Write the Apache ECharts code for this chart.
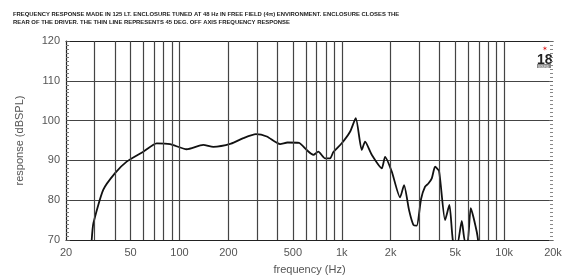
<!DOCTYPE html>
<html>
<head>
    <title>Frequency response</title>
    <script src="https://cdn.jsdelivr.net/npm/echarts/dist/echarts.min.js"></script>
</head>
<body style="margin:0;background:#fff;">
    <div id="chart" style="width:564px;height:275px;"></div>
    <script type="text/javascript">
        // on-axis response (Hz, dBSPL)
        const freqHz = [28.8, 29.5, 33.9, 40.1, 47.3, 59.9, 72.4, 87.5, 110.8, 140, 161.6, 207.8,
            247.5, 296, 345, 416.6, 463, 545, 608, 668, 717, 789, 847, 887, 999, 1124, 1219,
            1327, 1391, 1529, 1763, 1848, 2031, 2285, 2418, 2596, 2760, 2896, 3078, 3258,
            3414, 3584, 3756, 3974, 4327, 4600, 4848, 5130, 5483, 5746, 5954, 6230, 6786, 7010, 7500];
        const splDb = [70, 74.2, 82.6, 86.8, 89.7, 92.2, 94.3, 94.1, 92.8, 93.9, 93.4, 94.2,
            95.6, 96.6, 96.0, 94.1, 94.5, 94.4, 92.6, 91.4, 92.2, 90.5, 90.5, 92.1, 94.3, 97.2, 100.6,
            92.6, 94.7, 91.4, 88.0, 90.9, 87.2, 80.7, 83.8, 77.5, 73.8, 73.6, 80.3, 83.4,
            84.2, 85.5, 88.4, 87.3, 75.0, 78.8, 69.5, 68.7, 74.8, 69.5, 69.5, 78.0, 72.0, 68, 58];

        const xTickLabels = [20, 50, 100, 200, 500, 1000, 2000, 5000, 10000, 20000];
        const xGridValues = [30, 40, 50, 60, 70, 80, 90, 100, 200, 300, 400, 500, 600, 700, 800, 900,
            1000, 2000, 3000, 4000, 5000, 6000, 7000, 8000, 9000, 10000];

        const titleLines = [
            'FREQUENCY RESPONSE MADE IN 125 LT. ENCLOSURE TUNED AT 48 Hz IN FREE FIELD (4\u03c0) ENVIRONMENT. ENCLOSURE CLOSES THE',
            'REAR OF THE DRIVER. THE THIN LINE REPRESENTS 45 DEG. OFF AXIS FREQUENCY RESPONSE'
        ];

        const gridColor = '#444';
        const labelColor = '#555';

        function fmtHz(v) {
            return v >= 1000 ? (v / 1000) + 'k' : String(v);
        }

        let chart = echarts.init(document.getElementById('chart'));
        let option = {
            animation: false,
            title: {
                text: titleLines.join('\n'),
                left: 8, top: 5,
                textStyle: {fontSize: 5.9, fontWeight: 'bold', color: '#222', lineHeight: 8,
                    fontFamily: 'Liberation Sans'}
            },
            grid: {left: 66, top: 41, width: 487, height: 199, outerBoundsMode: 'none'},
            xAxis: [{
                type: 'log', logBase: 10, min: 20, max: 20000,
                name: 'frequency (Hz)', nameLocation: 'middle', nameGap: 20, nameMoveOverlap: false,
                nameTextStyle: {fontSize: 11, color: labelColor, fontFamily: 'Liberation Sans'},
                axisLine: {lineStyle: {color: '#222', width: 1.2}},
                axisTick: {show: false},
                splitLine: {show: false},
                axisLabel: {customValues: xTickLabels, formatter: fmtHz, margin: 3,
                    fontSize: 11, color: labelColor, fontFamily: 'Liberation Sans'}
            }, {
                type: 'log', logBase: 10, min: 20, max: 20000, position: 'top',
                axisLine: {lineStyle: {color: '#222', width: 1.2}},
                axisTick: {show: false}, axisLabel: {show: false}, splitLine: {show: false}
            }],
            yAxis: [{
                type: 'value', min: 70, max: 120, interval: 10,
                name: 'response (dBSPL)', nameLocation: 'middle', nameGap: 37, nameMoveOverlap: false,
                nameTextStyle: {fontSize: 11, color: labelColor, fontFamily: 'Liberation Sans'},
                axisLine: {show: true, lineStyle: {color: '#222', width: 1.2}},
                axisTick: {show: true, inside: true, length: 4, lineStyle: {color: '#555'}},
                minorTick: {show: true, splitNumber: 10, length: 3, lineStyle: {color: '#777'}},
                splitLine: {show: true, lineStyle: {color: gridColor, width: 1.2}},
                axisLabel: {margin: 6, fontSize: 11, color: labelColor, fontFamily: 'Liberation Sans'}
            }, {
                type: 'value', min: 70, max: 120, interval: 10, position: 'right',
                axisLine: {show: false},
                axisTick: {show: true, inside: true, length: 4, lineStyle: {color: '#666'}},
                minorTick: {show: true, splitNumber: 10, length: 3, lineStyle: {color: '#888'}},
                splitLine: {show: false}, axisLabel: {show: false}
            }],
            graphic: [
                {type: 'text', left: 542, top: 43, style: {text: '\u2736', fontSize: 7, fill: '#d22'}},
                {type: 'text', left: 537, top: 48, style: {text: '18', fontSize: 14, fontWeight: 'bold',
                    fill: '#222', fontFamily: 'Liberation Sans'}},
                {type: 'rect', left: 537, top: 64, shape: {width: 14, height: 4}, style: {fill: '#888'}},
                {type: 'text', left: 538, top: 64.5, style: {text: 'SOUND', fontSize: 3, fill: '#fff'}}
            ],
            series: [{
                type: 'line',
                data: freqHz.map((f, i) => [f, splDb[i]]),
                showSymbol: false,
                smooth: 0.2,
                clip: true,
                lineStyle: {color: '#111', width: 1.8},
                markLine: {
                    silent: true, symbol: 'none', animation: false,
                    label: {show: false},
                    lineStyle: {color: gridColor, type: 'solid', width: 1.2},
                    data: xGridValues.map(v => ({xAxis: v}))
                },
                z: 3
            }]
        };
        chart.setOption(option);
    </script>
</body>
</html>
